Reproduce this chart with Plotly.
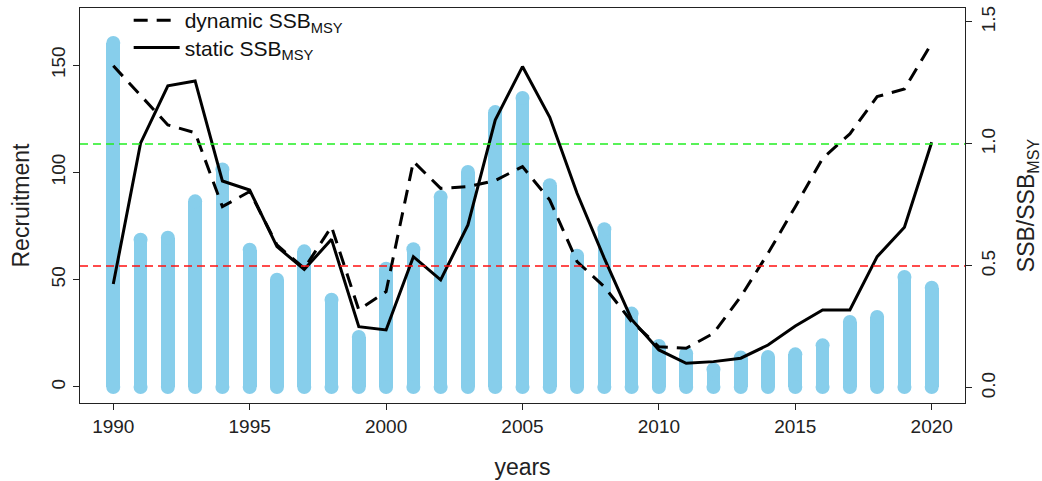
import plotly.graph_objects as go

years = list(range(1990, 2021))
recruitment = [160.3, 68.6, 69.6, 86.5, 101.4, 64.0, 50.0, 63.2, 40.7, 23.3,
               55.1, 64.2, 88.5, 100.2, 128.1, 134.7, 94.0, 61.2, 73.5, 34.2,
               19.1, 15.5, 8.2, 13.7, 14.0, 15.2, 19.4, 30.3, 32.6, 51.3, 46.3]
static_ratio = [0.426, 1.003, 1.238, 1.258, 0.848, 0.811, 0.579, 0.486, 0.609, 0.251,
                0.238, 0.538, 0.443, 0.668, 1.098, 1.317, 1.109, 0.798, 0.531, 0.281,
                0.156, 0.101, 0.108, 0.122, 0.176, 0.254, 0.320, 0.320, 0.538, 0.659, 1.007]
dynamic_ratio = [1.320, 1.197, 1.078, 1.046, 0.743, 0.805, 0.586, 0.490, 0.661, 0.320,
                 0.395, 0.928, 0.818, 0.825, 0.850, 0.907, 0.770, 0.518, 0.415, 0.272,
                 0.169, 0.163, 0.224, 0.374, 0.552, 0.743, 0.941, 1.041, 1.194, 1.225, 1.413]
x_ticks = [1990, 1995, 2000, 2005, 2010, 2015, 2020]
y1_ticks = [0, 50, 100, 150]
y2_ticks = [0.0, 0.5, 1.0, 1.5]
y2_ticklabels = ["0.0", "0.5", "1.0", "1.5"]
ref_levels = [1.0, 0.5]
ref_colors = ["#22EE22", "#FF1111"]

BAR = "#87CEEB"
FONT = "Liberation Sans, Arial, sans-serif"

fig = go.Figure()

# bars (recruitment) with round caps
fig.add_trace(go.Bar(x=years, y=recruitment, width=0.5, marker=dict(color=BAR, line=dict(width=0)),
                     showlegend=False, yaxis="y"))
fig.add_trace(go.Scatter(x=years, y=recruitment, mode="markers",
                         marker=dict(size=14, color=BAR, line=dict(width=0)),
                         showlegend=False, yaxis="y", hoverinfo="skip"))
fig.add_trace(go.Scatter(x=years, y=[0] * len(years), mode="markers",
                         marker=dict(size=14, color=BAR, line=dict(width=0)),
                         showlegend=False, yaxis="y", hoverinfo="skip"))

# ratio lines
fig.add_trace(go.Scatter(x=years, y=dynamic_ratio, mode="lines", yaxis="y2",
                         name="dynamic SSB<sub>MSY</sub>", legend="legend",
                         line=dict(color="black", width=3, dash="14px,9px")))
fig.add_trace(go.Scatter(x=years, y=static_ratio, mode="lines", yaxis="y2",
                         name="static SSB<sub>MSY</sub>", legend="legend2",
                         line=dict(color="black", width=3)))

for lvl, col in zip(ref_levels, ref_colors):
    fig.add_shape(type="line", xref="paper", x0=0, x1=1, yref="y2", y0=lvl, y1=lvl,
                  line=dict(color=col, width=1.5, dash="8px,5px"), layer="above")

axis_common = dict(showgrid=False, zeroline=False, showline=True, linecolor="#222", linewidth=1,
                   ticks="outside", ticklen=6, tickcolor="#222", tickwidth=1, automargin=False,
                   tickfont=dict(size=19, color="#222", family=FONT))

legend_common = dict(x=0.055, xanchor="left", yanchor="middle", bgcolor="rgba(0,0,0,0)",
                     font=dict(size=21, family=FONT, color="#111"), itemwidth=46)

fig.update_layout(
    width=1042, height=481,
    margin=dict(l=80, r=77, t=8, b=78, autoexpand=False),
    paper_bgcolor="white", plot_bgcolor="white",
    font=dict(family=FONT, color="#222"),
    bargap=0,
    xaxis=dict(range=[1988.78, 2021.22], tickvals=x_ticks, mirror=True,
               title=dict(text="years", font=dict(size=23, family=FONT), standoff=23),
               **axis_common),
    yaxis=dict(range=[-7.46, 176.6], tickvals=y1_ticks, tickangle=-90,
               title=dict(text="Recruitment", font=dict(size=23, family=FONT), standoff=12),
               **axis_common),
    yaxis2=dict(range=[-0.0615, 1.557], tickvals=y2_ticks, ticktext=y2_ticklabels,
                tickangle=-90, overlaying="y", side="right",
                title=dict(text="SSB/SSB<sub>MSY</sub>", font=dict(size=23, family=FONT), standoff=20),
                **axis_common),
    legend=dict(y=0.968, **legend_common),
    legend2=dict(y=0.899, **legend_common),
)

fig.write_html("out.html", config={"displayModeBar": False},
               post_script="document.body.style.margin='0';document.body.style.overflow='hidden';")
